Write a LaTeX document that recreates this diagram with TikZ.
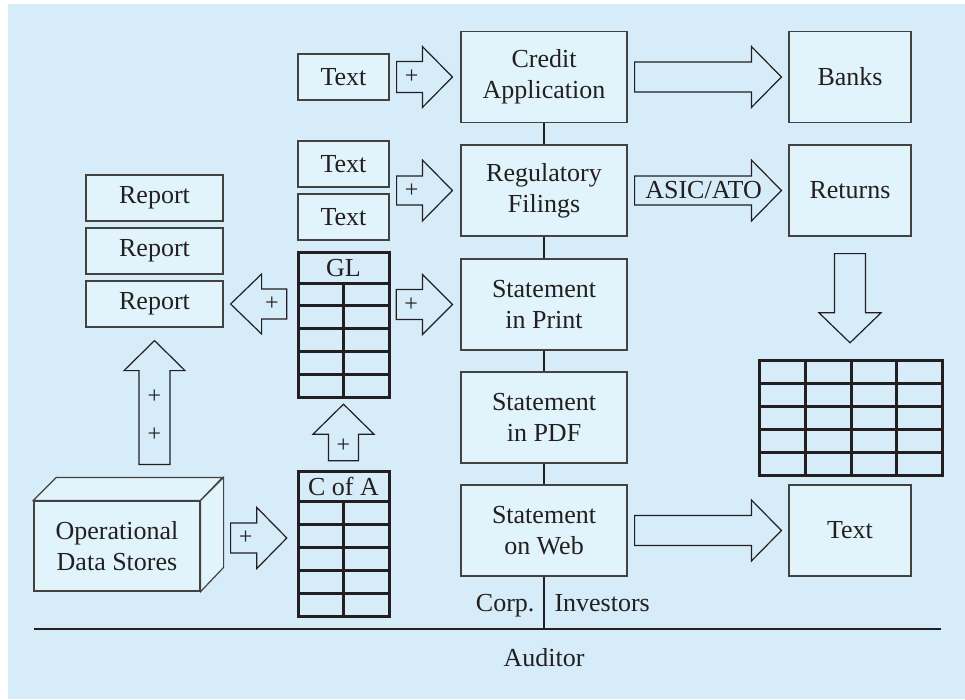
\documentclass[tikz,border=0pt]{standalone}
\usepackage{fontspec}
\setmainfont{Liberation Serif}
\usetikzlibrary{calc}
\definecolor{bgblue}{RGB}{214,236,249}
\definecolor{boxfill}{RGB}{225,243,251}
\definecolor{ink}{RGB}{35,31,32}
\newcommand\BArrR[5]{\draw[barrow] let \p1=#1, \p2=#2 in (\x1,{\y1+#3}) -- ({\x2-#5},{\y1+#3}) -- ({\x2-#5},{\y1+#4}) -- (\x2,\y1) -- ({\x2-#5},{\y1-#4}) -- ({\x2-#5},{\y1-#3}) -- (\x1,{\y1-#3}) -- cycle;}
\newcommand\BArrL[5]{\draw[barrow] let \p1=#1, \p2=#2 in (\x1,{\y1+#3}) -- ({\x2+#5},{\y1+#3}) -- ({\x2+#5},{\y1+#4}) -- (\x2,\y1) -- ({\x2+#5},{\y1-#4}) -- ({\x2+#5},{\y1-#3}) -- (\x1,{\y1-#3}) -- cycle;}
\newcommand\BArrU[5]{\draw[barrow] let \p1=#1, \p2=#2 in ({\x1-#3},\y1) -- ({\x1-#3},{\y2-#5}) -- ({\x1-#4},{\y2-#5}) -- (\x1,\y2) -- ({\x1+#4},{\y2-#5}) -- ({\x1+#3},{\y2-#5}) -- ({\x1+#3},\y1) -- cycle;}
\newcommand\BArrD[5]{\draw[barrow] let \p1=#1, \p2=#2 in ({\x1-#3},\y1) -- ({\x1-#3},{\y2+#5}) -- ({\x1-#4},{\y2+#5}) -- (\x1,\y2) -- ({\x1+#4},{\y2+#5}) -- ({\x1+#3},{\y2+#5}) -- ({\x1+#3},\y1) -- cycle;}
\begin{document}
\begin{tikzpicture}[x=1pt,y=-1pt,
  font=\fontsize{26}{31}\selectfont, text=ink,
  box/.style={draw=ink!85, line width=1.2pt, fill=boxfill, align=center, inner sep=0pt},
  smallbox/.style={box, minimum width=91pt, minimum height=46pt},
  repbox/.style={box, minimum width=137pt, minimum height=46pt},
  bigbox/.style={box, minimum width=166pt, minimum height=91pt},
  rbox/.style={box, minimum width=122pt, minimum height=91pt},
  barrow/.style={draw=ink, line width=1.2pt, fill=bgblue, line join=miter},
  gridline/.style={draw=ink, line width=3pt},
  conn/.style={draw=ink, line width=2pt},
  plus/.style={inner sep=0pt, font=\fontsize{24}{24}\selectfont},
  tbl/.style={inner sep=0pt}]
\useasboundingbox (0,0) rectangle (965,699);
\fill[white] (0,0) rectangle (965,699);
\fill[bgblue] (8,4) rectangle (965,699);

% central column
\node[bigbox] (credit) at (544,77) {Credit\\Application};
\node[bigbox] (reg) at (544,190.5) {Regulatory\\Filings};
\node[bigbox] (print) at (544,304.5) {Statement\\in Print};
\node[bigbox] (pdf) at (544,417.5) {Statement\\in PDF};
\node[bigbox] (web) at (544,530.5) {Statement\\on Web};

% right column
\node[rbox] (banks) at (850,77) {Banks};
\node[rbox] (returns) at (850,190.5) {Returns};
\node[rbox] (text4) at (850,530.5) {Text};

% text boxes
\node[smallbox] (t1) at (343.5,77) {Text};
\node[smallbox] (t2) at (343.5,164) {Text};
\node[smallbox] (t3) at (343.5,217) {Text};

% reports
\node[repbox] (rep1) at (154.5,198) {Report};
\node[repbox] (rep2) at (154.5,251) {Report};
\node[repbox] (rep3) at (154.5,304) {Report};

% GL table
\node[tbl, minimum width=91pt, minimum height=145pt] (gl) at (343.5,324.5) {};
\draw[gridline] (298,252) rectangle (389,397);
\foreach \yy in {283,305.8,328.6,351.4,374.2} \draw[gridline] (298,\yy) -- (389,\yy);
\draw[gridline] (343.5,283) -- (343.5,397);
\node (gltitle) at (343.5,268) {GL};

% C of A table
\node[tbl, minimum width=91pt, minimum height=145pt] (cofa) at (343.5,543.5) {};
\draw[gridline] (298,471) rectangle (389,616);
\foreach \yy in {501,524,547,570,593} \draw[gridline] (298,\yy) -- (389,\yy);
\draw[gridline] (343.5,501) -- (343.5,616);
\node (cofatitle) at (343.5,486) {C of A};

% right table
\node[tbl, minimum width=183pt, minimum height=115pt] (rtable) at (850.5,417.5) {};
\draw[gridline] (759,360) rectangle (942,475);
\foreach \yy in {383,406,429,452} \draw[gridline] (759,\yy) -- (942,\yy);
\foreach \xx in {805,851,896} \draw[gridline] (\xx,360) -- (\xx,475);

% operational data stores (3D box)
\node[box, minimum width=166pt, minimum height=90pt] (ods) at (117,546) {Operational\\Data Stores};
\coordinate (odsback) at ($(ods.north)+(23,-23)$);
\draw[box] (ods.north west) -- ++(23,-23) -- ++(166,0) -- (ods.north east) -- cycle;
\draw[box] (ods.north east) -- ++(23,-23) -- ++(0,90) -- (ods.south east) -- cycle;

% base line and vertical connectors
\coordinate (blL) at (34,629);
\coordinate (blR) at (941,629);
\draw[conn] (blL) -- (blR);
\draw[conn] (credit.south) -- (reg.north);
\draw[conn] (reg.south) -- (print.north);
\draw[conn] (print.south) -- (pdf.north);
\draw[conn] (pdf.south) -- (web.north);
\draw[conn] (web.south) -- (web.south |- blL);
\node[anchor=base east] (corp) at (538,611) {Corp.};
\node[anchor=base west] (inv) at (551,611) {Investors};
\node[anchor=base] (aud) at (544,666) {Auditor};

% block arrows
\BArrR{($(t1.east)+(7,0)$)}{($(credit.west)+(-8,0)$)}{15.5pt}{30.5pt}{30pt}
\node[plus] (p1) at ($(t1.east)+(22,0)$) {+};
\BArrR{($(t2.south east)!0.5!(t3.north east)+(7,0)$)}{($(reg.west)+(-8,0)$)}{14.5pt}{30.5pt}{30pt}
\node[plus] (p2) at ($(t2.south east)!0.5!(t3.north east)+(22,0)$) {+};
\BArrL{($(gl.west |- rep3)+(-11,0)$)}{($(rep3.east)+(7,0)$)}{15pt}{30pt}{31pt}
\node[plus] (p3) at ($(gl.west |- rep3)+(-26,0)$) {+};
\BArrR{($(gl.east |- print)+(7,0)$)}{($(print.west)+(-8,0)$)}{15pt}{30pt}{30pt}
\node[plus] (p4) at ($(gl.east |- print)+(22,0)$) {+};
\BArrU{($(rep3.south |- odsback)+(0,-13)$)}{($(rep3.south)+(0,13)$)}{15.5pt}{30.5pt}{30pt}
\node[plus] (p5) at (154.5,397) {+};
\node[plus] (p6) at (154.5,435) {+};
\BArrU{($(cofa.north)+(0,-10)$)}{($(gl.south)+(0,7)$)}{15pt}{30.5pt}{30pt}
\node[plus] (p7) at ($(cofa.north)+(0,-25)$) {+};
\BArrR{($(ods.east)+(30,-8)$)}{($(cofa.west)+(-11,0)$)}{15pt}{30.5pt}{30pt}
\node[plus] (p8) at ($(ods.east)+(45,-8)$) {+};
\BArrR{($(credit.east)+(7,0)$)}{($(banks.west)+(-7,0)$)}{15pt}{30.5pt}{30pt}
\BArrR{($(reg.east)+(7,0)$)}{($(returns.west)+(-7,0)$)}{14.5pt}{30.5pt}{30pt}
\node (asic) at ($(reg.east)+(76,0)$) {ASIC/ATO};
\BArrD{($(returns.south)+(0,17)$)}{($(rtable.north)+(0,-17)$)}{15.5pt}{31pt}{30pt}
\BArrR{($(web.east)+(7,0)$)}{($(text4.west)+(-7,0)$)}{15pt}{30.5pt}{30pt}
\end{tikzpicture}
\end{document}
